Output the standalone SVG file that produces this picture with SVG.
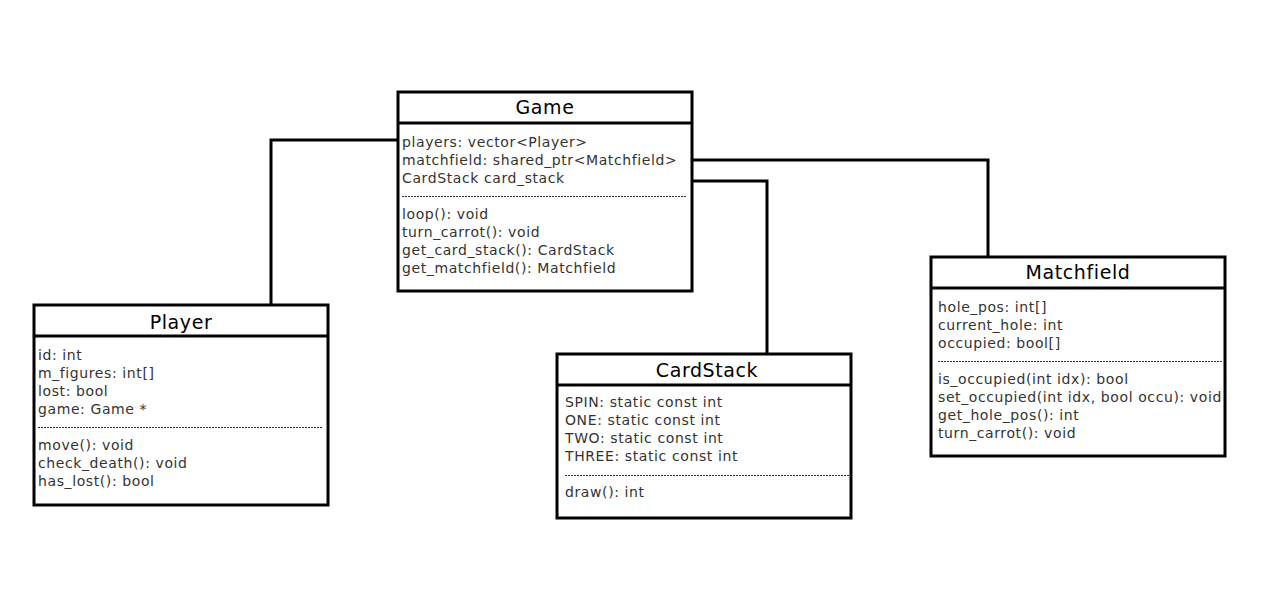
<svg xmlns="http://www.w3.org/2000/svg" width="1284" height="610" viewBox="0 0 1284 610">
<style>
.box{fill:#fff;stroke:#000;stroke-width:3}
.sep{stroke:#000;stroke-width:3}
.dash{stroke:#333;stroke-width:1;stroke-dasharray:2 1}
.title{font-family:"DejaVu Sans",sans-serif;font-size:19px;letter-spacing:0.6px;fill:#000;text-anchor:middle}
.t{font-family:"DejaVu Sans",sans-serif;font-size:14px;letter-spacing:0.6px;fill:#333}
.conn{fill:none;stroke:#000;stroke-width:3}
</style>
<rect width="1284" height="610" fill="#fff"/>
<g id="connectors">
<polyline class="conn" points="397,140 271,140 271,304"/>
<polyline class="conn" points="693,160 988,160 988,256"/>
<polyline class="conn" points="693,181 767,181 767,353"/>
</g>
<g id="Game">
<rect class="box" x="398" y="92" width="294" height="199"/>
<line class="sep" x1="398" y1="123" x2="692" y2="123"/>
<text class="title" x="545" y="114">Game</text>
<text class="t" x="402" y="147">players: vector&lt;Player&gt;</text>
<text class="t" x="402" y="165">matchfield: shared_ptr&lt;Matchfield&gt;</text>
<text class="t" x="402" y="183">CardStack card_stack</text>
<line class="dash" x1="402" y1="196.5" x2="687" y2="196.5"/>
<text class="t" x="402" y="219">loop(): void</text>
<text class="t" x="402" y="237">turn_carrot(): void</text>
<text class="t" x="402" y="255">get_card_stack(): CardStack</text>
<text class="t" x="402" y="273">get_matchfield(): Matchfield</text>
</g>
<g id="Player">
<rect class="box" x="34" y="305" width="294" height="200"/>
<line class="sep" x1="34" y1="336" x2="328" y2="336"/>
<text class="title" x="181" y="329">Player</text>
<text class="t" x="38" y="360">id: int</text>
<text class="t" x="38" y="378">m_figures: int[]</text>
<text class="t" x="38" y="396">lost: bool</text>
<text class="t" x="38" y="414">game: Game *</text>
<line class="dash" x1="38" y1="427.5" x2="322" y2="427.5"/>
<text class="t" x="38" y="450">move(): void</text>
<text class="t" x="38" y="468">check_death(): void</text>
<text class="t" x="38" y="486">has_lost(): bool</text>
</g>
<g id="CardStack">
<rect class="box" x="557" y="354" width="294" height="164"/>
<line class="sep" x1="557" y1="385" x2="851" y2="385"/>
<text class="title" x="707" y="377">CardStack</text>
<text class="t" x="565" y="407">SPIN: static const int</text>
<text class="t" x="565" y="425">ONE: static const int</text>
<text class="t" x="565" y="443">TWO: static const int</text>
<text class="t" x="565" y="461">THREE: static const int</text>
<line class="dash" x1="565" y1="475.5" x2="850" y2="475.5"/>
<text class="t" x="565" y="497">draw(): int</text>
</g>
<g id="Matchfield">
<rect class="box" x="931" y="257" width="294" height="199"/>
<line class="sep" x1="931" y1="288" x2="1225" y2="288"/>
<text class="title" x="1078" y="279">Matchfield</text>
<text class="t" x="938" y="312">hole_pos: int[]</text>
<text class="t" x="938" y="330">current_hole: int</text>
<text class="t" x="938" y="348">occupied: bool[]</text>
<line class="dash" x1="938" y1="361.5" x2="1222" y2="361.5"/>
<text class="t" x="938" y="384">is_occupied(int idx): bool</text>
<text class="t" x="938" y="402">set_occupied(int idx, bool occu): void</text>
<text class="t" x="938" y="420">get_hole_pos(): int</text>
<text class="t" x="938" y="438">turn_carrot(): void</text>
</g>
</svg>
